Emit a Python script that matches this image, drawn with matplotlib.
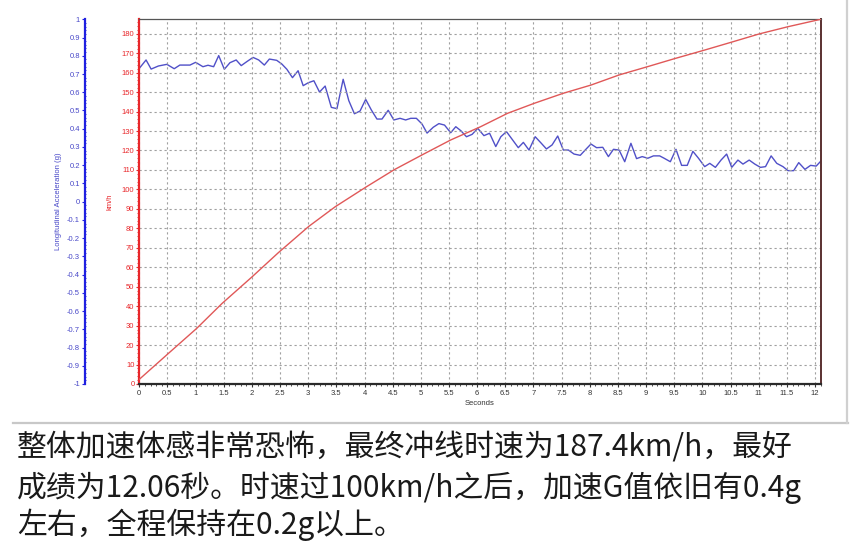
import matplotlib
matplotlib.use("Agg")
import matplotlib.pyplot as plt
from matplotlib.ticker import MultipleLocator, FormatStrFormatter
from matplotlib.lines import Line2D

# ---------------- data ----------------
speed_t = [0.00, 0.52, 1.02, 1.47, 2.00, 2.47, 3.01, 3.48, 4.02, 4.52, 5.02, 5.53,
           6.06, 6.54, 7.01, 7.53, 8.02, 8.52, 9.03, 9.53, 10.04, 10.51, 11.01, 11.52, 12.10]
speed_kmh = [2.4, 15.8, 28.6, 41.4, 55.0, 67.5, 81.0, 91.1, 101.1, 110.0, 117.7, 125.4,
             132.2, 139.1, 144.2, 149.4, 153.6, 158.8, 163.1, 167.4, 171.6, 175.6, 179.9, 183.6, 187.4]

accel_t = [0.00, 0.12, 0.21, 0.34, 0.49, 0.62, 0.72, 0.90, 1.00, 1.13, 1.22, 1.32, 1.41, 1.51,
           1.61, 1.72, 1.81, 1.91, 2.02, 2.12, 2.22, 2.31, 2.44, 2.53, 2.62, 2.72, 2.82, 2.91,
           3.00, 3.10, 3.20, 3.30, 3.41, 3.51, 3.62, 3.72, 3.82, 3.92, 4.02, 4.12, 4.22, 4.31,
           4.42, 4.52, 4.63, 4.73, 4.82, 4.92, 5.02, 5.11, 5.22, 5.32, 5.42, 5.53, 5.62, 5.71,
           5.81, 5.91, 6.01, 6.12, 6.22,
           6.33, 6.42, 6.52, 6.63, 6.73, 6.82, 6.92, 7.03, 7.13, 7.23, 7.33, 7.43, 7.53, 7.62,
           7.72, 7.83, 7.93, 8.02, 8.12, 8.23, 8.33, 8.42, 8.52, 8.62, 8.73, 8.83, 8.93, 9.03,
           9.13, 9.24, 9.32, 9.43, 9.53, 9.63, 9.73, 9.83, 9.93, 10.04, 10.13, 10.23, 10.33,
           10.43, 10.52, 10.63, 10.72, 10.83, 10.93, 11.03, 11.12, 11.22, 11.32, 11.43, 11.52,
           11.62, 11.71, 11.82, 11.92, 12.02, 12.11]
accel_g = [0.731, 0.777, 0.727, 0.744, 0.753, 0.729, 0.749, 0.749, 0.764, 0.740,
           0.748, 0.740, 0.801, 0.726, 0.762, 0.777, 0.746, 0.768, 0.791, 0.777,
           0.749, 0.782, 0.775, 0.755, 0.726, 0.680, 0.718, 0.636, 0.652, 0.663,
           0.601, 0.634, 0.517, 0.510, 0.671, 0.554, 0.482, 0.497, 0.561, 0.503,
           0.453, 0.453, 0.501, 0.448, 0.457, 0.448, 0.457, 0.457, 0.426, 0.376,
           0.408, 0.428, 0.420, 0.378, 0.411, 0.389, 0.356, 0.369, 0.402, 0.362,
           0.375,
           0.302, 0.356, 0.384, 0.338, 0.296, 0.325, 0.283, 0.356, 0.323, 0.289,
           0.311, 0.360, 0.283, 0.283, 0.261, 0.254, 0.287, 0.316, 0.296, 0.298,
           0.247, 0.287, 0.283, 0.219, 0.320, 0.236, 0.247, 0.238, 0.251, 0.251,
           0.238, 0.219, 0.287, 0.199, 0.199, 0.276, 0.238, 0.192, 0.210, 0.188,
           0.228, 0.261, 0.188, 0.228, 0.206, 0.228, 0.206, 0.188, 0.192, 0.251,
           0.210, 0.192, 0.170, 0.170, 0.214, 0.177, 0.199, 0.195, 0.225]

x_max = 12.1
speed_max = 187.4
caption_lines = ["整体加速体感非常恐怖，最终冲线时速为187.4km/h，最好",
                 "成绩为12.06秒。时速过100km/h之后，加速G值依旧有0.4g",
                 "左右，全程保持在0.2g以上。"]

# ---------------- figure ----------------
W, H = 852, 559
fig = plt.figure(figsize=(W / 100, H / 100), dpi=100)
fig.patch.set_facecolor("white")
plt.rcParams["font.family"] = ["Liberation Sans", "DejaVu Sans"]

L, R, T, B = 139.3, 820.7, 19.3, 384.0
ax = fig.add_axes([L / W, 1 - B / H, (R - L) / W, (B - T) / H])

RED = "#e8262a"
RED_LINE = "#e05858"
BLUE = "#2020e0"
BLUE_TXT = "#4848c8"
BLUE_LINE = "#5050c8"

# speed (main axis)
ax.set_xlim(0, x_max)
ax.set_ylim(0, speed_max)
ax.xaxis.set_major_locator(MultipleLocator(0.5))
ax.xaxis.set_minor_locator(MultipleLocator(0.1))
ax.xaxis.set_major_formatter(FormatStrFormatter("%g"))
ax.yaxis.set_major_locator(MultipleLocator(10))
ax.yaxis.set_minor_locator(MultipleLocator(2))
ax.grid(True, which="major", color="#a0a0a0", linestyle=(0, (2, 2.5)), linewidth=0.8)
ax.set_axisbelow(True)

ax.tick_params(axis="x", which="major", labelsize=5.5, colors="#333333", length=2.5, width=0.8, pad=2)
ax.tick_params(axis="x", which="minor", length=1.5, width=0.6, colors="#333333")
ax.tick_params(axis="y", which="major", labelsize=5.5, colors=RED, labelcolor=RED, length=2.5, width=0.8, pad=1)
ax.tick_params(axis="y", which="minor", length=1.3, width=0.6, colors=RED)

ax.spines["left"].set_color(RED)
ax.spines["left"].set_linewidth(1.6)
ax.spines["bottom"].set_color("#2a2a2a")
ax.spines["bottom"].set_linewidth(1.6)
ax.spines["top"].set_color("#555555")
ax.spines["top"].set_linewidth(0.9)
ax.spines["right"].set_color("#5a3030")
ax.spines["right"].set_linewidth(1.4)

ax.set_xlabel("Seconds", fontsize=5.5, color="#333333", labelpad=2)
ax.set_ylabel("km/h", fontsize=5.5, color=RED, labelpad=6)

# acceleration (twin axis, spine moved to the far left)
ax2 = ax.twinx()
ax2.set_ylim(-1, 1)
ax2.yaxis.set_ticks_position("left")
ax2.yaxis.set_label_position("left")
ax2.spines["left"].set_visible(True)
ax2.spines["left"].set_position(("axes", -(L - 85.0) / (R - L)))
ax2.spines["left"].set_color(BLUE)
ax2.spines["left"].set_linewidth(1.6)
for s in ("right", "top", "bottom"):
    ax2.spines[s].set_visible(False)
ax2.yaxis.set_major_locator(MultipleLocator(0.1))
ax2.yaxis.set_minor_locator(MultipleLocator(0.02))
ax2.yaxis.set_major_formatter(FormatStrFormatter("%g"))
ax2.tick_params(axis="y", which="major", labelsize=5.5, colors=BLUE, labelcolor=BLUE_TXT, length=2.5, width=0.8, pad=1)
ax2.tick_params(axis="y", which="minor", length=1.3, width=0.6, colors=BLUE, direction="inout")
ax2.set_ylabel("Longitudinal Acceleration (g)", fontsize=5.5, color=BLUE_TXT, labelpad=4)

# blue trace on the twin axis, placed beneath the main axis so the red speed line sits on top
ax2.plot(accel_t, accel_g, color=BLUE_LINE, linewidth=1.0, zorder=3)
ax.set_zorder(ax2.get_zorder() + 1)
ax.patch.set_visible(False)
ax.plot(speed_t, speed_kmh, color=RED_LINE, linewidth=1.0, zorder=3)

# outer frame of the screenshot
fig.add_artist(Line2D([13 / W, 848 / W], [1 - 423 / H, 1 - 423 / H], transform=fig.transFigure,
                      color="#c8c8c8", linewidth=1.6))
fig.add_artist(Line2D([847 / W, 847 / W], [1 - 423 / H, 1.0], transform=fig.transFigure,
                      color="#d0d0d0", linewidth=1.6))

# caption
cap_font = ["Noto Sans CJK SC", "DejaVu Sans"]
for line, yc in zip(caption_lines, [448, 487.5, 525]):
    fig.text(17 / W, 1 - yc / H, line, fontsize=21.5, family=cap_font, color="#1a1a1a",
             ha="left", va="center", fontweight="light")

fig.savefig("out.png", dpi=100, facecolor="white")
